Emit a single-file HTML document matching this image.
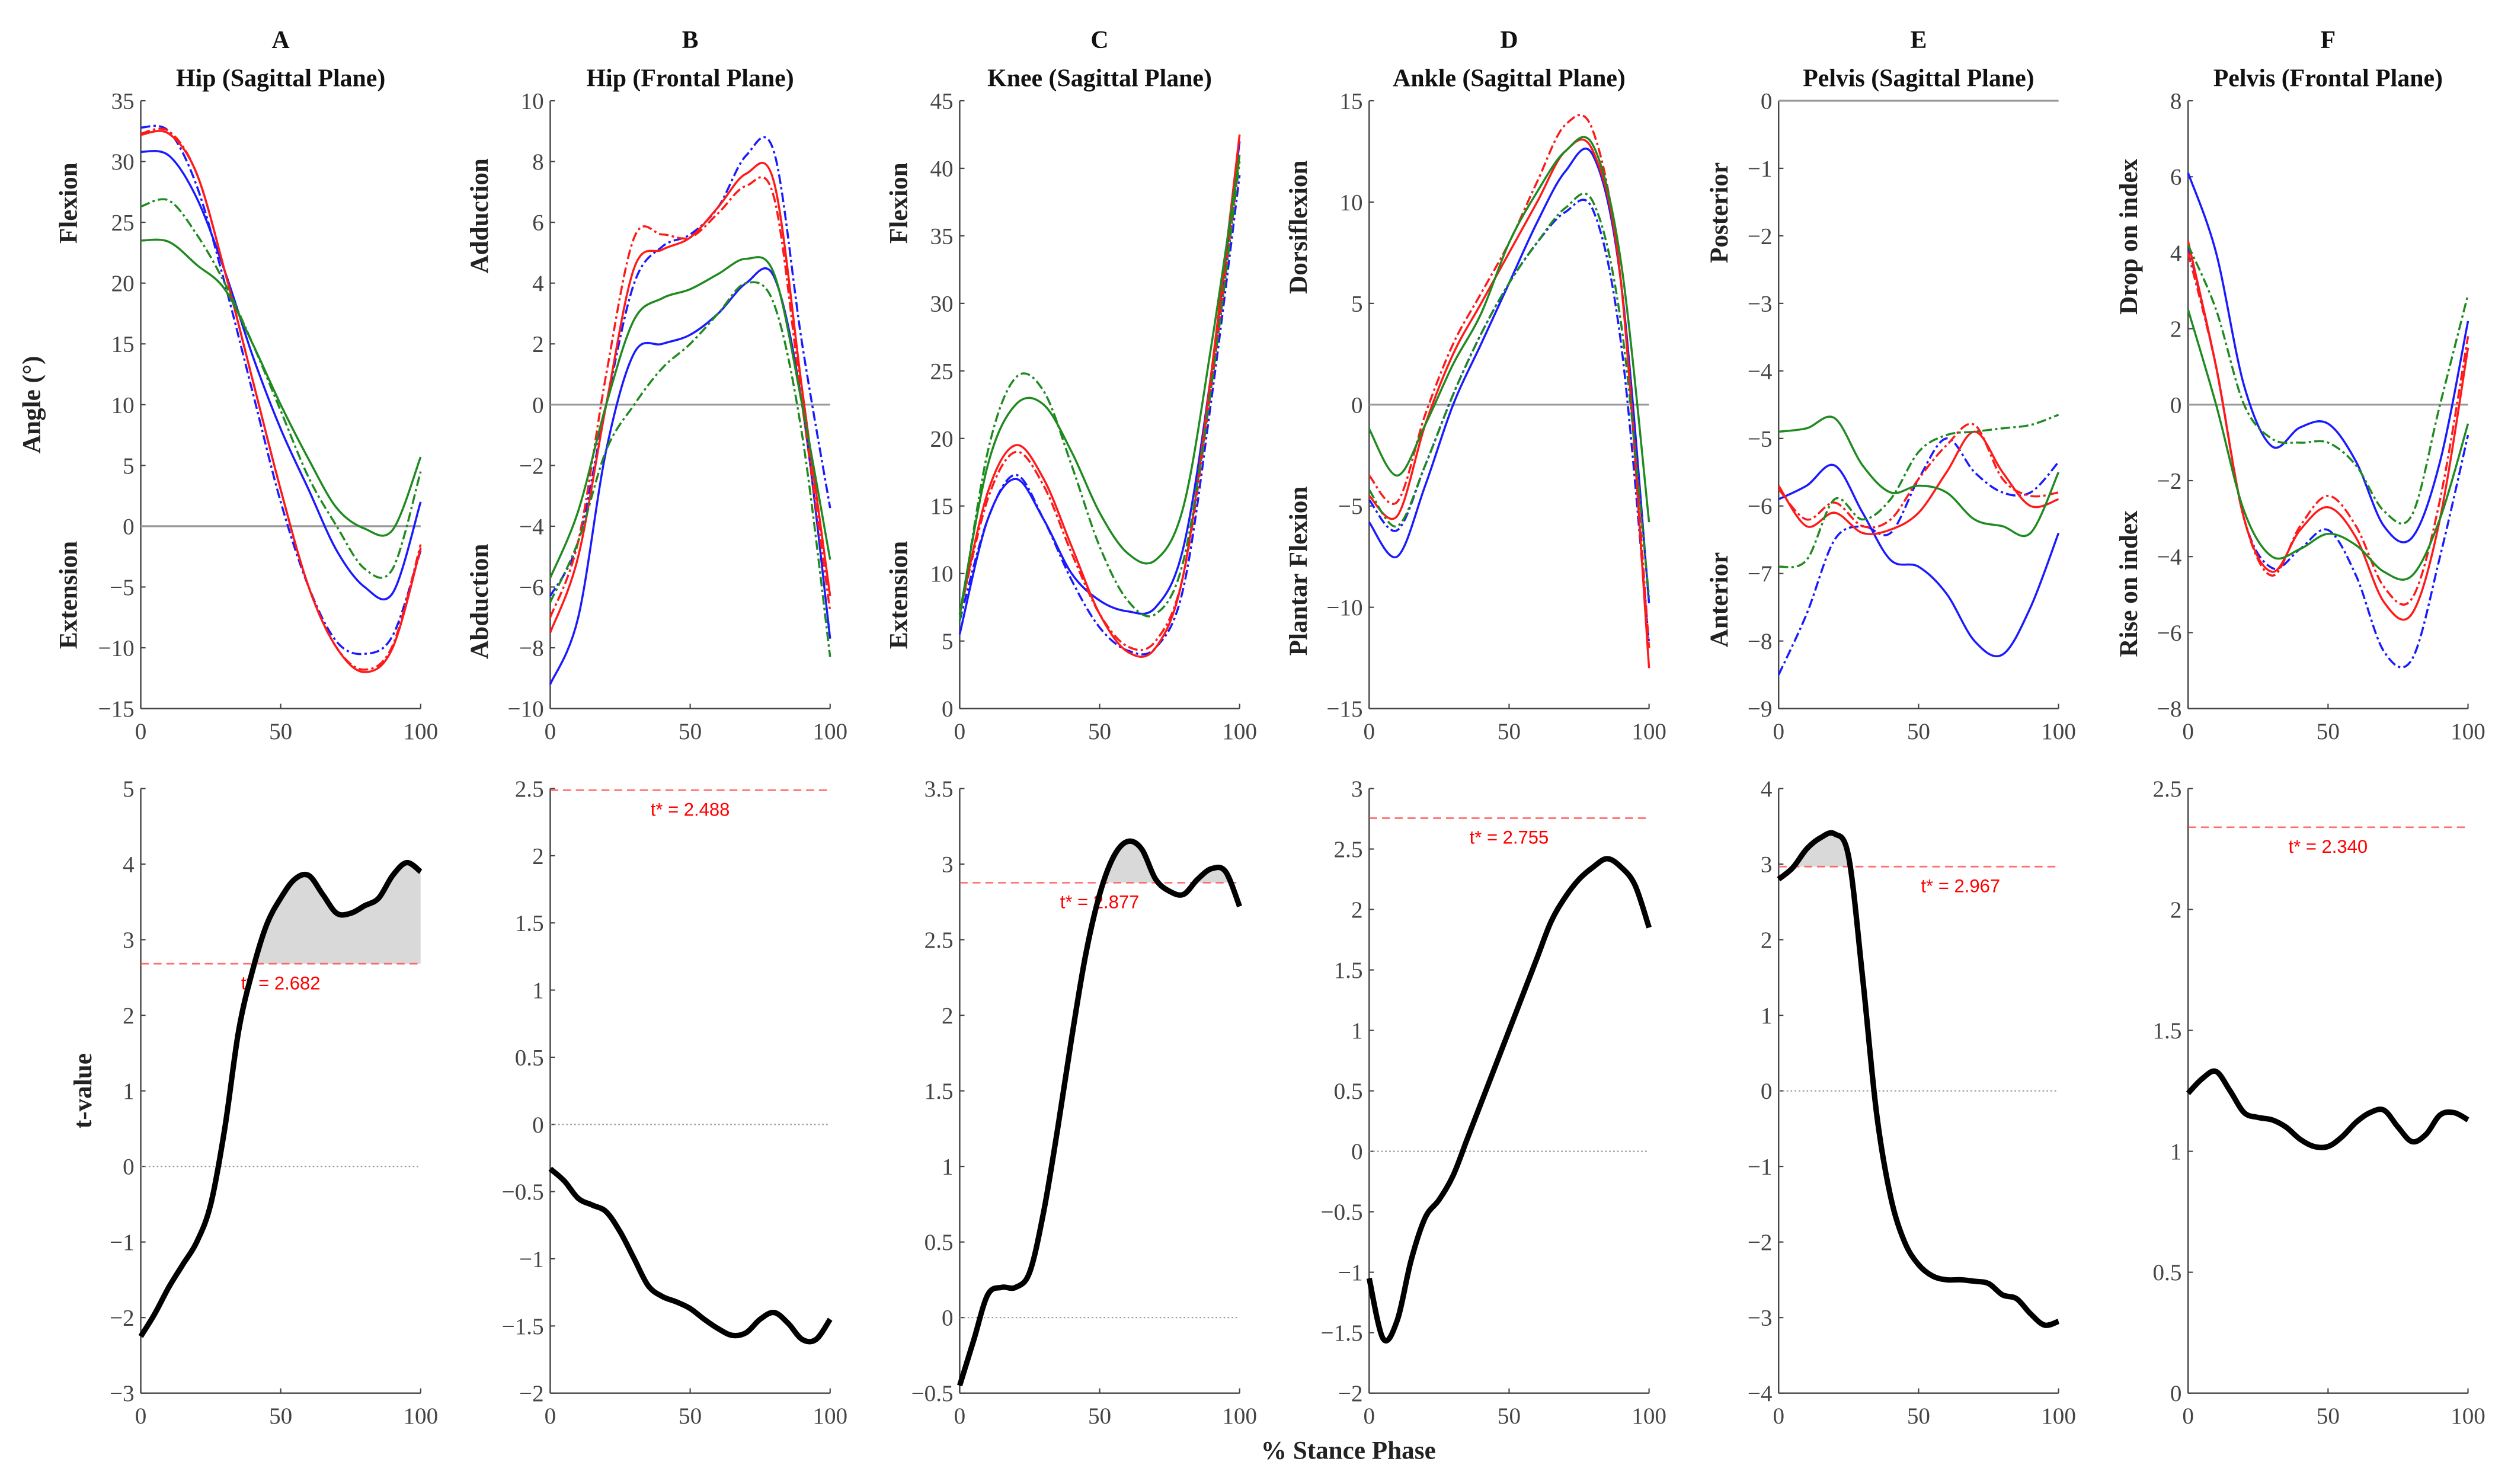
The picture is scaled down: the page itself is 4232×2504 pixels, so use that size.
<!DOCTYPE html>
<html><head><meta charset="utf-8"><style>
html,body{margin:0;padding:0;background:#fff;}
svg{display:block;}
text{font-family:"Liberation Serif",serif;}
.tk{font-size:14.5px;fill:#444;}
.ttl{font-size:15.5px;font-weight:bold;fill:#111;}
.sl{font-size:16px;font-weight:bold;fill:#222;}
.ts{font-family:"Liberation Sans",sans-serif;font-size:11.5px;fill:#f00;}
</style></head><body>
<svg id="fig" width="4232" height="2504" viewBox="0 0 1568 927.8" preserveAspectRatio="none" xmlns="http://www.w3.org/2000/svg"></svg>
<script>
// ---- data ----
const xs11=[0,10,20,30,40,50,60,70,80,90,100];
const xs21=[0,5,10,15,20,25,30,35,40,45,50,55,60,65,70,75,80,85,90,95,100];
const panelLetters=["A","B","C","D","E","F"];
const panelTitles=["Hip (Sagittal Plane)","Hip (Frontal Plane)","Knee (Sagittal Plane)","Ankle (Sagittal Plane)","Pelvis (Sagittal Plane)","Pelvis (Frontal Plane)"];
const topRanges=[[-15,35,5],[-10,10,2],[0,45,5],[-15,15,5],[-9,0,1],[-8,8,2]];
const botRanges=[[-3,5,1],[-2,2.5,0.5],[-0.5,3.5,0.5],[-2,3,0.5],[-4,4,1],[0,2.5,0.5]];
const tStar=[2.682,2.488,2.877,2.755,2.967,2.340];
const tStarLabels=["t* = 2.682","t* = 2.488","t* = 2.877","t* = 2.755","t* = 2.967","t* = 2.340"];
const tLabelX=[50,50,50,50,65,50];
const upperLabels=["Flexion","Adduction","Flexion","Dorsiflexion","Posterior","Drop on index"];
const lowerLabels=["Extension","Abduction","Extension","Plantar Flexion","Anterior","Rise on index"];
// series order: blue solid, blue dash-dot, red solid, red dash-dot, green solid, green dash-dot
const blueSolid=[
[30.8,30.5,27,21,14,8,3,-2,-5,-5.5,2],
[-9.2,-7,-1.5,1.7,2,2.3,3,4,4.2,0,-7.7],
[5.5,14,17,14,10,8,7.2,7.5,12,25,42],
[-5.8,-7.5,-4,0,3,6,9,11.5,12.3,6,-9.8],
[-5.9,-5.7,-5.4,-6.1,-6.8,-6.9,-7.3,-8,-8.2,-7.5,-6.4],
[6.1,4,0.5,-1.1,-0.6,-0.5,-1.5,-3.2,-3.5,-1.5,2.2]];
const blueDash=[
[32.8,32.5,28,20,11,2,-5,-9.5,-10.5,-9,-2],
[-6.3,-4.5,0,4,5.2,5.6,6.5,8.2,8.3,2,-3.4],
[6.5,14,17.3,14,9.5,6,4.3,4.5,9,23,39.5],
[-4.7,-6.2,-3,0.5,3.5,6,8,9.5,9.6,3,-11.8],
[-8.5,-7.6,-6.5,-6.3,-6.4,-5.6,-5.0,-5.5,-5.8,-5.8,-5.35],
[4.2,1,-3,-4.3,-3.8,-3.3,-4.5,-6.5,-6.7,-4,-0.8]];
const redSolid=[
[32.2,32.3,29,21,12,3,-5,-10,-12,-10,-1.8],
[-7.5,-5,0,4.5,5.1,5.5,6.5,7.6,7.3,0.5,-6.3],
[7,16,19.5,17,12,7,4.2,4.5,10,25,42.5],
[-4.5,-5.5,-1,2.5,5,7.5,10,12.5,12.5,6,-13],
[-5.7,-6.3,-6.1,-6.4,-6.35,-6.1,-5.5,-4.9,-5.5,-6,-5.9],
[4.3,1,-3,-4.4,-3.3,-2.7,-3.5,-5.2,-5.5,-3,1.5]];
const redDash=[
[32.3,32.5,29,21,12,3,-5,-10,-11.8,-9.8,-1.5],
[-7,-4.5,1,5.5,5.6,5.5,6.3,7.2,6.8,0,-6.8],
[7,15.5,19,16.5,11.5,7,4.6,5,10,24,41],
[-3.5,-4.8,-0.5,3,5.5,8,11,13.8,13.5,6,-12],
[-5.75,-6.2,-5.95,-6.3,-6.2,-5.6,-5.1,-4.8,-5.6,-5.85,-5.8],
[4,1,-3,-4.5,-3.2,-2.4,-3.2,-4.8,-5.1,-2.5,1.8]];
const greenSolid=[
[23.5,23.4,21.5,19.5,15,10,5.5,1.5,-0.2,-0.3,5.7],
[-5.7,-3.5,0,2.8,3.5,3.8,4.3,4.8,4.3,0,-5.1],
[7,18,22.5,22.5,19,14.5,11.5,11,15,27,41],
[-1.2,-3.5,-1,2,4.5,8,10.5,12.5,12.8,7,-5.8],
[-4.9,-4.85,-4.7,-5.4,-5.8,-5.7,-5.8,-6.2,-6.3,-6.4,-5.5],
[2.5,0,-2.8,-4,-3.8,-3.4,-3.7,-4.4,-4.5,-3,-0.5]];
const greenDash=[
[26.3,26.8,24,20,15,9.5,4,0,-3.5,-3.5,4.5],
[-6.5,-4.5,-1.5,0,1.2,2,3,4,3.3,-1,-8.3],
[6.5,19,24.5,23.5,18,12,8,7,11,24,40.5],
[-4.2,-6,-3,0.5,3.5,6,8,9.7,10,4,-9.5],
[-6.9,-6.8,-5.9,-6.2,-5.9,-5.2,-4.95,-4.9,-4.85,-4.8,-4.65],
[4.2,2.5,0,-0.9,-1,-1,-1.6,-2.8,-2.9,0,2.9]];
const tValues=[
[-2.25,-1.95,-1.6,-1.3,-1.0,-0.5,0.5,1.8,2.6,3.2,3.55,3.8,3.85,3.6,3.35,3.35,3.45,3.55,3.85,4.02,3.9],
[-0.33,-0.42,-0.55,-0.6,-0.65,-0.8,-1.0,-1.2,-1.28,-1.32,-1.37,-1.45,-1.52,-1.57,-1.55,-1.45,-1.4,-1.48,-1.6,-1.6,-1.45],
[-0.45,-0.15,0.15,0.2,0.2,0.3,0.7,1.25,1.85,2.4,2.8,3.05,3.15,3.1,2.9,2.82,2.8,2.9,2.97,2.95,2.72],
[-1.05,-1.55,-1.4,-0.9,-0.55,-0.4,-0.2,0.1,0.4,0.7,1.0,1.3,1.6,1.9,2.1,2.25,2.35,2.42,2.35,2.2,1.85],
[2.8,2.95,3.2,3.35,3.4,3.1,1.5,-0.3,-1.4,-2.0,-2.3,-2.45,-2.5,-2.5,-2.52,-2.55,-2.7,-2.75,-2.95,-3.1,-3.05],
[1.24,1.3,1.33,1.25,1.16,1.14,1.13,1.1,1.05,1.02,1.02,1.06,1.12,1.16,1.17,1.1,1.04,1.07,1.15,1.16,1.13]];
const seriesColors=["#1a1aff","#1a1aff","#ff1a1a","#ff1a1a","#1f8a1f","#1f8a1f"];
const seriesDash=["","6 2 1.5 2","","6 2 1.5 2","","6 2 1.5 2"];

// ---- layout ----
const NS="http://www.w3.org/2000/svg";
const svg=document.getElementById("fig");
const panelX0=[88,344,600,856,1112,1368], panelW=175;
const topY0=63, topY1=443, botY0=493, botY1=871;
const sideLX=[43,300,562,812,1075,1331];
const upperLY=[127,135,127,142,133,148];
const lowerLY=[372,376,372,357,375,365];
function el(tag,attrs,parent){const e=document.createElementNS(NS,tag);for(const k in attrs)e.setAttribute(k,attrs[k]);(parent||svg).appendChild(e);return e;}
function txt(s,attrs,parent){const t=el("text",attrs,parent);t.textContent=s;return t;}
function smooth(pts){let d="M"+pts[0][0].toFixed(2)+","+pts[0][1].toFixed(2);
 for(let i=0;i<pts.length-1;i++){const p0=pts[Math.max(0,i-1)],p1=pts[i],p2=pts[i+1],p3=pts[Math.min(pts.length-1,i+2)];
  const c1=[p1[0]+(p2[0]-p0[0])/6,p1[1]+(p2[1]-p0[1])/6],c2=[p2[0]-(p3[0]-p1[0])/6,p2[1]-(p3[1]-p1[1])/6];
  d+=" C"+c1[0].toFixed(2)+","+c1[1].toFixed(2)+" "+c2[0].toFixed(2)+","+c2[1].toFixed(2)+" "+p2[0].toFixed(2)+","+p2[1].toFixed(2);}
 return d;}
function fmt(v){const s=(Math.round(v*10)/10).toString();return v<0?"\u2212"+s.slice(1):s;}

function axes(g,px,y0,y1,rng,which,p){
 const sx=v=>px+v/100*panelW, sy=v=>y1-(v-rng[0])/(rng[1]-rng[0])*(y1-y0);
 const ax=el("g",{},g);
 
 
 el("line",{x1:px,y1:y0,x2:px,y2:y1,stroke:"#444","stroke-width":0.9},ax);
 el("line",{x1:px,y1:y1,x2:px+panelW,y2:y1,stroke:"#444","stroke-width":0.9},ax);
 for(let v=rng[0];v<=rng[1]+1e-9;v+=rng[2]){const y=sy(v);
  el("line",{x1:px,y1:y,x2:px+3,y2:y,stroke:"#444","stroke-width":0.8},ax);
  txt(fmt(v),{x:px-4,y:y+5,"text-anchor":"end",class:"tk"},ax);}
 [0,50,100].forEach(v=>{const x=sx(v);el("line",{x1:x,y1:y1,x2:x,y2:y1-3,stroke:"#444","stroke-width":0.8},ax);
  txt(String(v),{x:x,y:y1+19,"text-anchor":"middle",class:"tk"},ax);});
 return [sx,sy];}

for(let p=0;p<6;p++){
 const px=panelX0[p];
 const g=el("g",{});
 
 
 txt(panelLetters[p],{x:px+panelW/2,y:30,"text-anchor":"middle",class:"ttl"},g);
 txt(panelTitles[p],{x:px+panelW/2,y:54,"text-anchor":"middle",class:"ttl"},g);
 const [sx,sy]=axes(g,px,topY0,topY1,topRanges[p],"top",p);
 if(topRanges[p][0]<0){const zl=el("line",{x1:px,y1:sy(0),x2:px+panelW,y2:sy(0),stroke:"#999","stroke-width":1.2},g);
  
  }
 const allS=[blueSolid,blueDash,redSolid,redDash,greenSolid,greenDash];
 const sNames=["blue-solid","blue-dashdot","red-solid","red-dashdot","green-solid","green-dashdot"];
 for(let s=0;s<6;s++){
  const pts=xs11.map((x,i)=>[sx(x),sy(allS[s][p][i])]);
  const path=el("path",{d:smooth(pts),fill:"none",stroke:seriesColors[s],"stroke-width":1.3,"stroke-dasharray":seriesDash[s]},g);
  
  }
 const ul=txt(upperLabels[p],{x:0,y:0,"text-anchor":"middle",class:"sl",transform:"translate("+(sideLX[p]+5)+","+upperLY[p]+") rotate(-90)"},g);
 
 
 const ll=txt(lowerLabels[p],{x:0,y:0,"text-anchor":"middle",class:"sl",transform:"translate("+(sideLX[p]+5)+","+lowerLY[p]+") rotate(-90)"},g);
 
 
 const [bx,by]=axes(g,px,botY0,botY1,botRanges[p],"bottom",p);
 if(botRanges[p][0]<0){const dz=el("line",{x1:px,y1:by(0),x2:px+panelW,y2:by(0),stroke:"#999","stroke-width":0.8,"stroke-dasharray":"1 1.5"},g);
  
  }
 const tpts=xs21.map((x,i)=>[bx(x),by(tValues[p][i])]);
 const thrY=by(tStar[p]);
 const cid="clip"+p;
 const cp=el("clipPath",{id:cid},g);
 el("rect",{x:px,y:botY0-20,width:panelW,height:thrY-botY0+20},cp);
 const fill=el("path",{d:smooth(tpts)+" L"+bx(100)+","+thrY+" L"+bx(0)+","+thrY+" Z",fill:"#d9d9d9",stroke:"none","clip-path":"url(#"+cid+")"},g);
 
 
 const th=el("line",{x1:px,y1:thrY,x2:px+panelW,y2:thrY,stroke:"#ff4040","stroke-width":1,"stroke-dasharray":"5 3",opacity:0.75},g);
 
 
 const tl=txt(tStarLabels[p],{x:bx(tLabelX[p]),y:thrY+16,"text-anchor":"middle",class:"ts"},g);
 
 
 const tc=el("path",{d:smooth(tpts),fill:"none",stroke:"#000","stroke-width":3.4,"stroke-linejoin":"round"},g);
 
 
}
const ay=txt("Angle (°)",{x:0,y:0,"text-anchor":"middle",class:"sl",transform:"translate(25,253) rotate(-90)"});


const ty=txt("t-value",{x:0,y:0,"text-anchor":"middle",class:"sl",transform:"translate(57,682) rotate(-90)"});


const xt=txt("% Stance Phase",{x:843,y:912,"text-anchor":"middle",class:"sl"});


</script>
</body></html>
